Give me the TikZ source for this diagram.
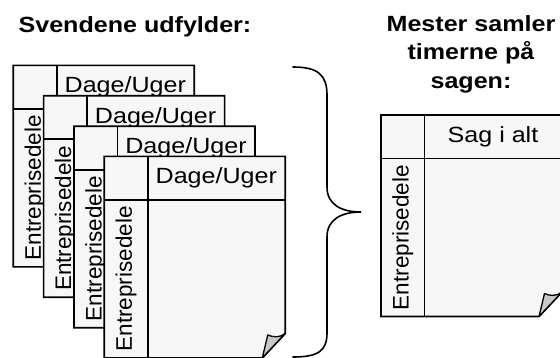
\documentclass[tikz,border=0pt]{standalone}
\usepackage{fontspec}
\setmainfont{Liberation Sans}
\usepackage{graphicx}
\definecolor{pagefill}{HTML}{F7F7F7}
\definecolor{foldgray}{HTML}{C8C8C8}
\newcommand\hs[1]{\scalebox{1.14}[1]{#1}}
\tikzset{
  pagebox/.style={draw=black, line width=1.7pt, fill=pagefill, line join=miter},
  foldbox/.style={draw=black, line width=1.3pt, fill=foldgray, line join=round},
  cellline/.style={draw=black, line width=1.7pt},
  hdrtext/.style={font=\fontsize{22}{26}\selectfont, inner sep=0pt},
  sidetext/.style={font=\fontsize{22.5}{26}\selectfont, rotate=90, inner sep=0pt},
  titletext/.style={font=\bfseries\fontsize{22}{28.7}\selectfont, inner sep=0pt},
  bracestyle/.style={draw=black, line width=1.6pt, line cap=round},
}
\newcommand\sheet[4]{%
  \begin{scope}[shift={(#2,#3)}]
    \draw[pagebox] (0,0) coordinate (#1-tl) -- (181,0) -- (181,177) coordinate (#1-fr)
      -- (158,201.5) coordinate (#1-fb) -- (0,201.5) -- cycle;
    \draw[cellline] (0,43.5) -- (181,43.5);
    \draw[cellline] (43.5,0) -- (43.5,201.5);
    \draw[foldbox] (#1-fb) -- (163.5,178.5) .. controls (168,181) and (176,181.5) .. (#1-fr) -- cycle;
    \node[hdrtext] (#1-head) at (112,21.75) {\hs{#4}};
    \node[sidetext] (#1-side) at (21.75,122.5) {Entreprisedele};
  \end{scope}}
\begin{document}
\begin{tikzpicture}[x=1pt,y=-1pt]
  \useasboundingbox (0,0) rectangle (560,358);
  \node[titletext, anchor=base] (t1) at (135,33) {\hs{Svendene udfylder:}};
  \node[titletext, align=center, anchor=north] (t2) at (471,15)
    {\hs{Mester samler}\\\hs{timerne på}\\\hs{sagen:}};
  \sheet{p1}{13.3}{65.4}{Dage/Uger}
  \sheet{p2}{43.6}{95.8}{Dage/Uger}
  \sheet{p3}{74}{126.2}{Dage/Uger}
  \sheet{p4}{104.3}{156.4}{Dage/Uger}
  \sheet{m}{381}{115}{Sag i alt}
  \draw[bracestyle] (293,67) coordinate (b-top)
    .. controls (318,67) and (327,75) .. (327,95) -- (327,187)
    .. controls (327,205) and (342,212) .. (361,212) coordinate (b-tip)
    .. controls (342,212) and (327,219) .. (327,237) -- (327,333)
    .. controls (327,351) and (318,357) .. (293,357) coordinate (b-bot);
\end{tikzpicture}
\end{document}
